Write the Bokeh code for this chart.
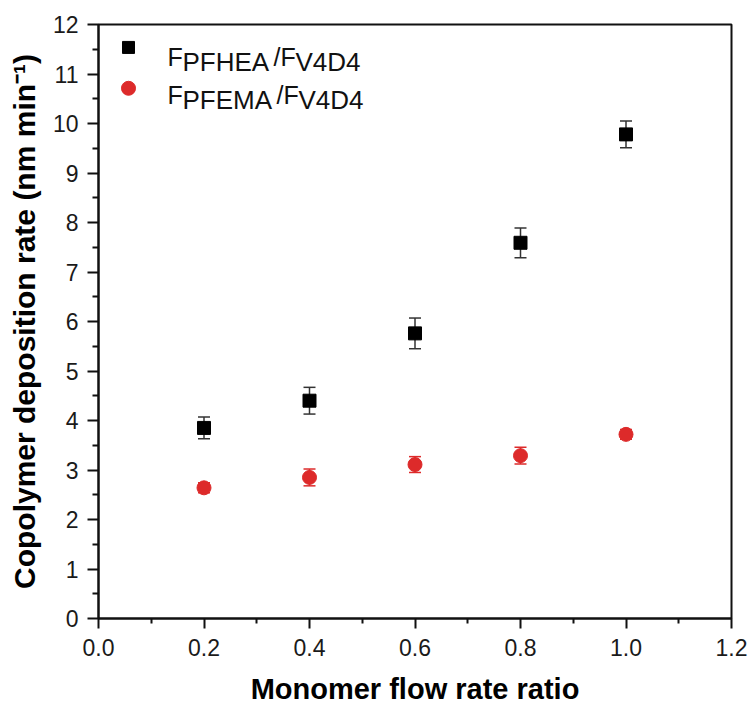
from bokeh.plotting import figure
from bokeh.models import (ColumnDataSource, Range1d, FixedTicker, Whisker, TeeHead,
                          Label, NumeralTickFormatter)
from bokeh.embed import file_html
from bokeh.resources import INLINE

# ---- data ----
ratio = [0.2, 0.4, 0.6, 0.8, 1.0]
pfhea_rate = [3.85, 4.40, 5.76, 7.59, 9.78]
pfhea_err = [0.22, 0.27, 0.31, 0.30, 0.27]
pfema_rate = [2.64, 2.85, 3.11, 3.29, 3.72]
pfema_err = [0.10, 0.17, 0.16, 0.17, 0.10]

x_ticks = [0.0, 0.2, 0.4, 0.6, 0.8, 1.0, 1.2]
x_minor = [0.1, 0.3, 0.5, 0.7, 0.9, 1.1]
y_ticks = list(range(0, 13))
y_minor = [i + 0.5 for i in range(0, 12)]

RED = "#dd2a2a"
FONT = "Liberation Sans"

src1 = ColumnDataSource(dict(x=ratio, y=pfhea_rate,
                             upper=[v + e for v, e in zip(pfhea_rate, pfhea_err)],
                             lower=[v - e for v, e in zip(pfhea_rate, pfhea_err)]))
src2 = ColumnDataSource(dict(x=ratio, y=pfema_rate,
                             upper=[v + e for v, e in zip(pfema_rate, pfema_err)],
                             lower=[v - e for v, e in zip(pfema_rate, pfema_err)]))

p = figure(width=752, height=707, output_backend="svg", toolbar_location=None,
           x_range=Range1d(0, 1.2), y_range=Range1d(0, 12),
           min_border_left=98, min_border_right=21, min_border_top=24, min_border_bottom=87)
p.background_fill_color = "white"
p.border_fill_color = "white"
p.grid.visible = False
p.outline_line_color = "#111111"
p.outline_line_width = 2

# error bars
for src, col in ((src1, "#333333"), (src2, RED)):
    w = Whisker(source=src, base="x", upper="upper", lower="lower",
                line_color=col, line_width=1.5, level="underlay",
                upper_head=TeeHead(size=12, line_color=col, line_width=1.5),
                lower_head=TeeHead(size=12, line_color=col, line_width=1.5))
    p.add_layout(w)

p.scatter("x", "y", source=src1, marker="square", size=13, fill_color="black", line_color="black")
p.scatter("x", "y", source=src2, marker="circle", size=14, fill_color=RED, line_color=RED)

# axes
for ax in (p.xaxis[0], p.yaxis[0]):
    ax.axis_line_width = 2
    ax.axis_line_color = "#111111"
    ax.major_tick_line_width = 2
    ax.minor_tick_line_width = 2
    ax.major_tick_line_color = "#111111"
    ax.minor_tick_line_color = "#111111"
    ax.major_tick_in = 0
    ax.minor_tick_in = 0
    ax.major_label_text_font = FONT
    ax.major_label_text_font_size = "23px"
    ax.major_label_text_color = "#1a1a1a"
    ax.axis_label_text_font = FONT
    ax.axis_label_text_font_style = "bold"
    ax.axis_label_text_color = "black"

p.xaxis[0].ticker = FixedTicker(ticks=x_ticks, minor_ticks=x_minor)
p.yaxis[0].ticker = FixedTicker(ticks=y_ticks, minor_ticks=y_minor)
p.xaxis[0].formatter = NumeralTickFormatter(format="0.0")
p.xaxis[0].major_tick_out = 10
p.xaxis[0].minor_tick_out = 5
p.yaxis[0].major_tick_out = 11
p.yaxis[0].minor_tick_out = 6
p.xaxis[0].major_label_standoff = 10
p.yaxis[0].major_label_standoff = 9
p.xaxis[0].axis_label = "Monomer flow rate ratio"
p.yaxis[0].axis_label = "Copolymer deposition rate (nm min\u207b\u00b9)"
p.xaxis[0].axis_label_text_font_size = "29px"
p.yaxis[0].axis_label_text_font_size = "30px"
p.xaxis[0].axis_label_standoff = 14
p.yaxis[0].axis_label_standoff = 9

# ---- manual legend ----
def px_x(px):
    return (px - 98) / (731 - 98) * 1.2

def px_y(py):
    return (620 - py) / (620 - 24) * 12

leg_markers = ColumnDataSource(dict(x=[px_x(128)], y=[px_y(47)]))
leg_markers2 = ColumnDataSource(dict(x=[px_x(128)], y=[px_y(88)]))
p.scatter("x", "y", source=leg_markers, marker="square", size=12, fill_color="black", line_color="black")
p.scatter("x", "y", source=leg_markers2, marker="circle", size=14, fill_color=RED, line_color=RED)

legend_rows = [("PFHEA", 57, 273), ("PFEMA", 95, 276)]
for name, base, slash_x in legend_rows:
    pieces = (("F", 167, 0, "25px"), (name, 182, 5, "26px"),
              ("/F", slash_x, 0, "25px"), ("V4D4", slash_x + 22, 5, "26px"))
    for txt, xp, dy, fs in pieces:
        p.add_layout(Label(x=px_x(xp), y=px_y(base + dy), text=txt,
                           text_font=FONT, text_font_size=fs, text_color="#111111",
                           text_baseline="alphabetic", text_align="left"))

open("out.html", "w").write(file_html(p, INLINE))
